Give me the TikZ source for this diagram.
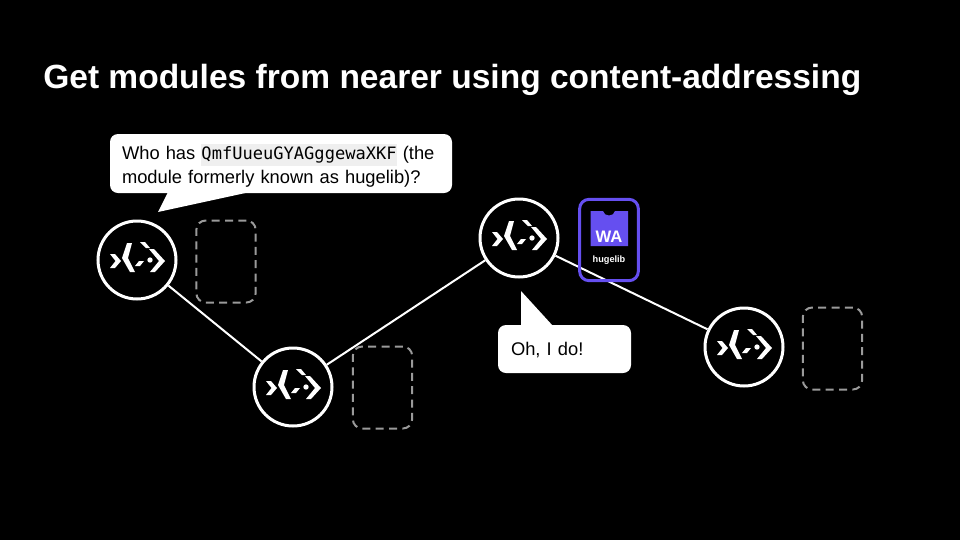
\documentclass[tikz,border=0pt]{standalone}
\usepackage{fontspec}
\setmainfont{Liberation Sans}
\setmonofont{DejaVu Sans Mono}
\definecolor{wapurple}{HTML}{654FF0}
\definecolor{slotgray}{HTML}{9A9A9A}
\definecolor{hashgray}{HTML}{EFEFEF}
\tikzset{
    peer/.style={circle, draw=white, line width=2.25pt, fill=black, minimum size=58.5pt, inner sep=0pt},
    link/.style={draw=white, line width=1.5pt},
    slot/.style={draw=slotgray, line width=1.5pt, dash pattern=on 6pt off 4pt, rounded corners=7pt, minimum width=44.5pt, minimum height=61.5pt, inner sep=0pt},
    bubble/.style={fill=white, rounded corners=6pt, text=black, font=\fontsize{13.75}{18}\selectfont, align=left, inner sep=0pt},
    logo/.pic={
        \fill[white] (-27,-6) -- (-22,-6) -- (-16,1) -- (-22,8) -- (-27,8) -- (-21.5,1) -- cycle;
        \fill[white] (-10,-17) -- (-5,-17) -- (-9,-2) -- (-2,12) -- (-7,12) -- (-15,-2) -- cycle;
        \fill[white] (3,-18) -- (8,-18) -- (13,-12) -- (9,-12) -- cycle;
        \fill[white] (12,-11) -- (17,-11) -- (28,1) -- (18,12) -- (13,12) -- (22,1) -- cycle;
        \fill[white] (-2,6) -- (2,1) -- (7,1) -- (3,6) -- cycle;
        \fill[white] (13,0) circle (2pt);
    }
}
\begin{document}
\begin{tikzpicture}[x=0.75pt, y=-0.75pt]
    \useasboundingbox[fill=black] (0,0) rectangle (960,540);

    % Title
    \node[anchor=base west, inner sep=0pt, text=white, font=\fontsize{25.15}{30}\selectfont\bfseries] (title) at (43,88) {Get modules from nearer using content-addressing};

    % Nodes
    \node[peer] (P1) at (137,260) {};
    \node[peer] (P2) at (293,387) {};
    \node[peer] (P3) at (519,238) {};
    \node[peer] (P4) at (744,347) {};

    % Lines
    \draw[link] (P1) -- (P2);
    \draw[link] (P2) -- (P3);
    \draw[link] (P3) -- (P4);

    % Logos
    \pic at (P1) {logo};
    \pic at (P2) {logo};
    \pic at (P3) {logo};
    \pic at (P4) {logo};

    % Empty slots
    \node[slot] (S1) at (226,261.5) {};
    \node[slot] (S2) at (382.5,387.5) {};
    \node[slot] (S4) at (832.5,348.5) {};

    % Module
    \node[draw=wapurple, line width=2.25pt, rounded corners=7pt, minimum width=44pt, minimum height=61pt, inner sep=0pt] (M3) at (609,240) {};
    \fill[wapurple] (590.5,211) -- (603,211) .. controls (604,217) and (614,217) .. (615,211) -- (628,211) -- (628,246) -- (590.5,246) -- cycle;
    \node[text=white, inner sep=0pt, font=\fontsize{12.5}{14}\selectfont\bfseries] (wa) at (609,237) {WA};
    \node[text=white, inner sep=0pt, font=\fontsize{6.9}{8}\selectfont\bfseries] (hugelib) at (609,260.5) {hugelib};

    % Speech bubbles
    \fill[white] (168,192) -- (250,192) -- (158,212) -- cycle;
    \node[bubble, minimum width=256.5pt, minimum height=44.25pt, text width=238.5pt, inner xsep=9pt] (ask) at (281,163.5) {\rule{0pt}{15pt}Who has {\fboxsep=0pt\colorbox{hashgray}{\fontsize{12.8}{16}\ttfamily\rule[-4.5pt]{0pt}{16.5pt}QmfUueuGYAGggewaXKF}} (the\\module formerly known as hugelib)?};
    \fill[white] (521,326) -- (553,326) -- (521,291) -- cycle;
    \node[bubble, minimum width=99.75pt, minimum height=36pt, text width=80.25pt, inner xsep=9.75pt] (reply) at (564.5,349) {\rule{0pt}{12pt}Oh, I do!};
\end{tikzpicture}
\end{document}
